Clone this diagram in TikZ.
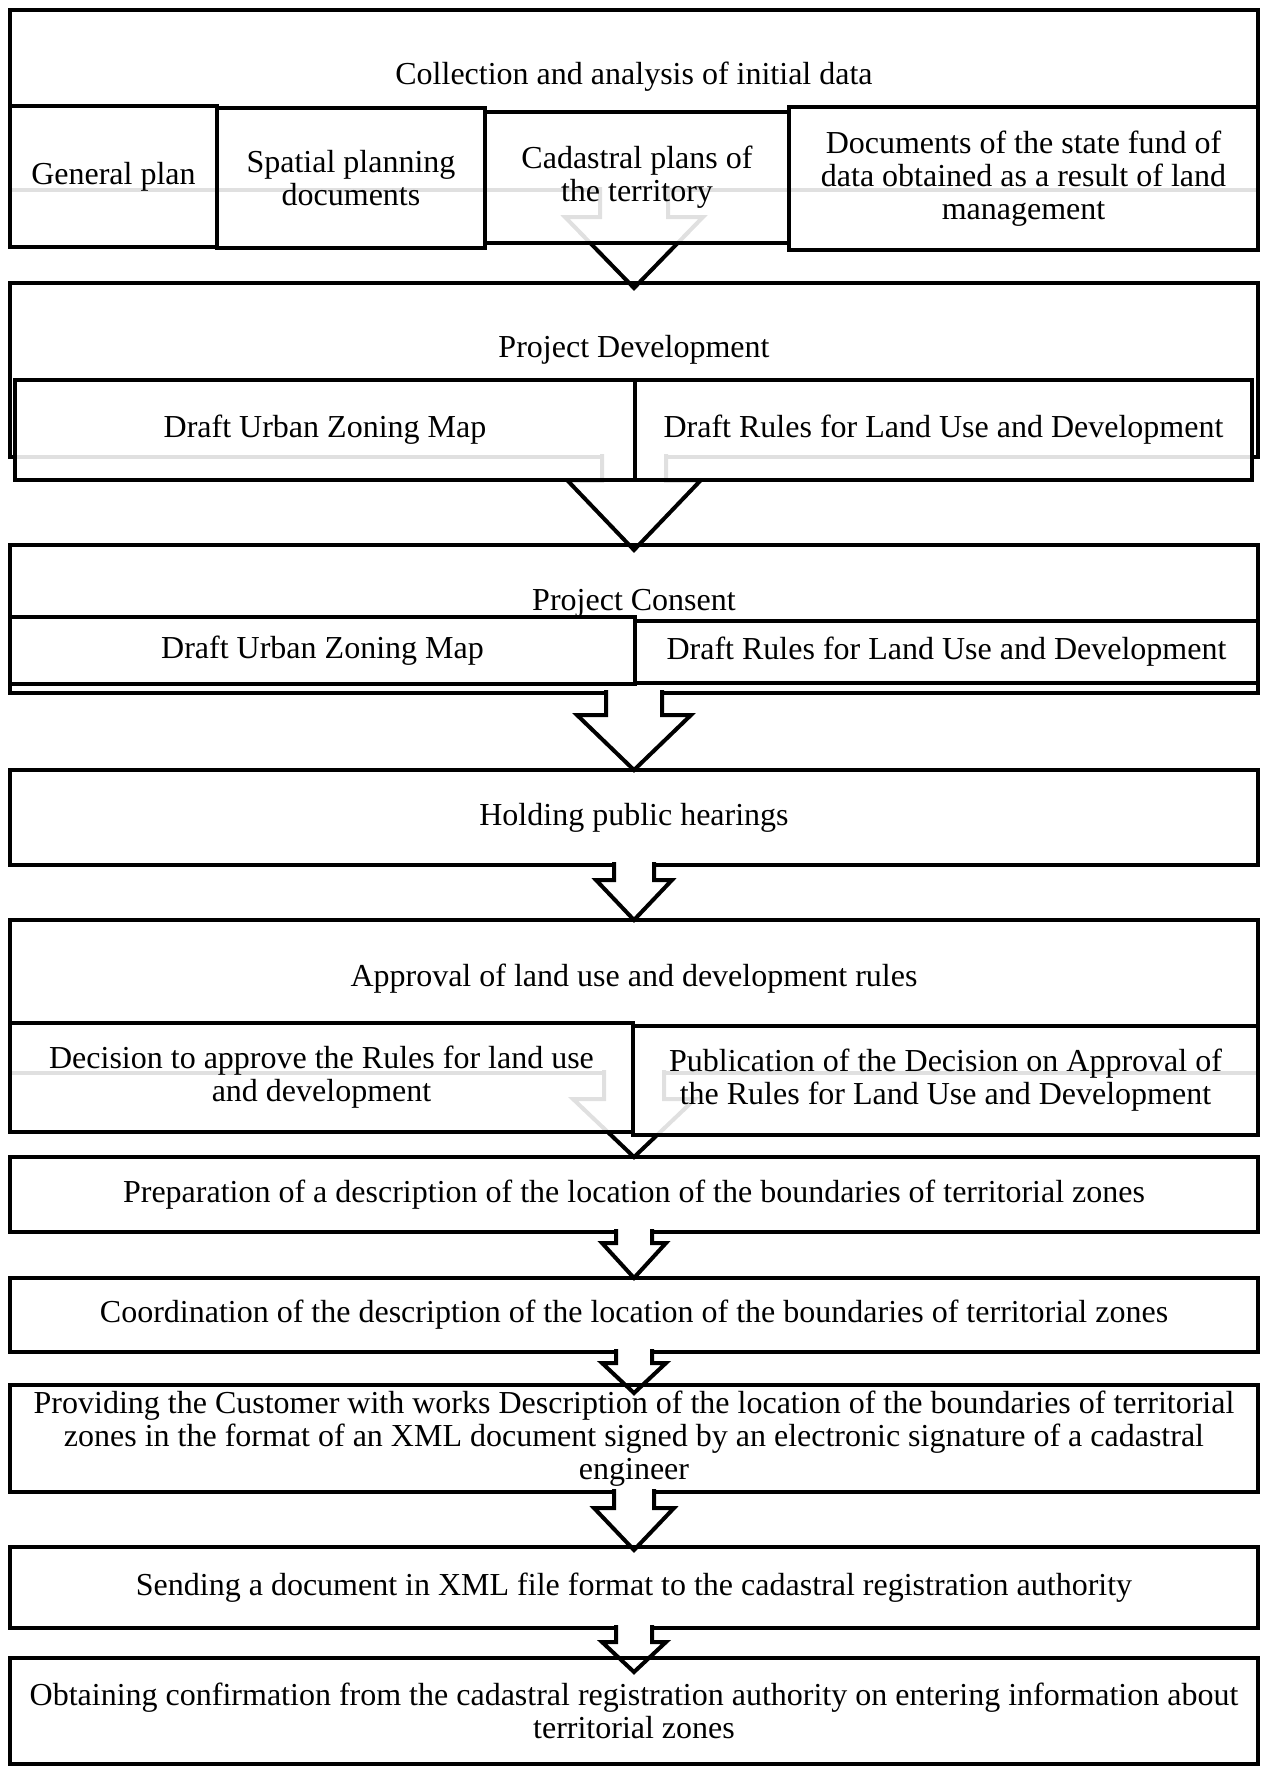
\documentclass[tikz,border=0pt]{standalone}
\usepackage{fontspec}
\setmainfont{Liberation Serif}
\usetikzlibrary{calc}

\tikzset{%
  every node/.append style={font=\fontsize{12}{12.4}\selectfont},
  stepbox/.style={draw, line width=1.5pt, inner sep=0pt, outer sep=0pt, align=center},
  subbox/.style={stepbox, fill=white, fill opacity=0.88, text opacity=1},
  box size/.style 2 args={minimum width=#1*0.375pt, minimum height=#2*0.375pt},
  flow/.style={line width=1.5pt, line join=miter}
}

\begin{document}
\begin{tikzpicture}[x=0.375pt,y=-0.375pt]
  \useasboundingbox (0,0) rectangle (1265,1767);

  % main steps
  \node[stepbox, box size={1248}{180}] (collect) at (634,100) {};
  \node (collect-t) at (634,77) {Collection and analysis of initial data};
  \node[stepbox, box size={1248}{174}] (develop) at (634,370) {};
  \node (develop-t) at (634,350) {Project Development};
  \node[stepbox, box size={1248}{148}] (consent) at (634,619) {};
  \node (consent-t) at (634,603) {Project Consent};
  \node[stepbox, box size={1248}{95}] (hearing) at (634,817.5) {Holding public hearings};
  \node[stepbox, box size={1248}{153}] (approve) at (634,996.5) {};
  \node (approve-t) at (634,979) {Approval of land use and development rules};
  \node[stepbox, box size={1248}{75}] (prepare) at (634,1194.5) {Preparation of a description of the location of the boundaries of territorial zones};
  \node[stepbox, box size={1248}{74}] (coord) at (634,1315) {Coordination of the description of the location of the boundaries of territorial zones};
  \node[stepbox, box size={1248}{107}] (provide) at (634,1438.5) {Providing the Customer with works Description of the location of the boundaries of territorial\\zones in the format of an XML document signed by an electronic signature of a cadastral\\engineer};
  \node[stepbox, box size={1248}{81}] (send) at (634,1587.5) {Sending a document in XML file format to the cadastral registration authority};
  \node[stepbox, box size={1248}{106}] (obtain) at (634,1711) {Obtaining confirmation from the cadastral registration authority on entering information about\\territorial zones};

  % block arrows: from/to/shaft/shaft length/head/overlap
  \foreach \a/\b/\s/\l/\h/\d in
    {collect/develop/34/27/69/5, develop/consent/32/23/67/5,
     consent/hearing/28/22/57/0, hearing/approve/20/15/38/0,
     approve/prepare/30/26/61/0, prepare/coord/18/11/32/0,
     coord/provide/18/11/32/8, provide/send/20/16/40/3,
     send/obtain/18/14/32/14}
  {
    \fill[white] ($(\a.south)+(-\s,-3)$) rectangle ($(\a.south)+(\s,3)$);
    \draw[flow] ($(\a.south)+(-\s,-3)$) -- ($(\a.south)+(-\s,\l)$)
      -- ($(\a.south)+(-\h,\l)$) -- ($(\b.north)+(0,\d)$)
      -- ($(\a.south)+(\h,\l)$) -- ($(\a.south)+(\s,\l)$)
      -- ($(\a.south)+(\s,-3)$);
  }

  % sources of the initial data
  \node[subbox, box size={207}{141}] (genplan) at (113.5,176.5) {General plan};
  \node[subbox, box size={268}{140}] (spatial) at (351,178) {Spatial planning\\documents};
  \node[subbox, box size={304}{131}] (cadplan) at (637,177.5) {Cadastral plans of\\the territory};
  \node[subbox, box size={469}{143}] (landfund) at (1023.5,178.5) {Documents of the state fund of\\data obtained as a result of land\\management};

  % drafts
  \node[subbox, box size={620}{100}] (map1) at (325,430) {Draft Urban Zoning Map};
  \node[subbox, box size={617}{100}] (rules1) at (943.5,430) {Draft Rules for Land Use and Development};
  \node[subbox, box size={625}{67}] (map2) at (322.5,650.5) {Draft Urban Zoning Map};
  \node[subbox, box size={623}{62}] (rules2) at (946.5,652) {Draft Rules for Land Use and Development};

  % approval
  \node[subbox, box size={623}{109}] (decision) at (321.5,1077.5) {Decision to approve the Rules for land use\\and development};
  \node[subbox, box size={625}{109}] (publish) at (945.5,1080.5) {Publication of the Decision on Approval of\\the Rules for Land Use and Development};
\end{tikzpicture}
\end{document}
